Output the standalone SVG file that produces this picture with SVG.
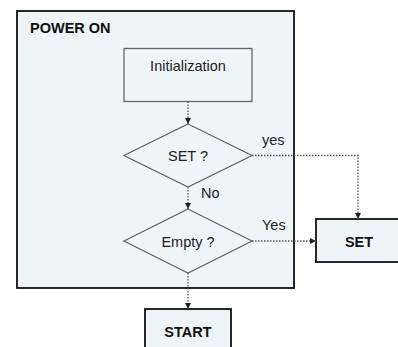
<svg xmlns="http://www.w3.org/2000/svg" width="398" height="347" viewBox="0 0 398 347">
  <style>
    text { font-family: "Liberation Sans", Arial, sans-serif; font-size: 14.5px; fill: #222; }
    .bold { font-weight: bold; fill: #111; }
    .frame { fill: #eef5f7; stroke: #111; stroke-width: 1.8; }
    .step { fill: #eef5f7; stroke: #666; stroke-width: 1.3; }
    .link { fill: none; stroke: #555; stroke-width: 1.3; stroke-dasharray: 1.5 1.5; }
  </style>
  <defs>
    <marker id="arrow" viewBox="0 0 10 10" refX="10" refY="5" markerWidth="6" markerHeight="6" orient="auto" markerUnits="userSpaceOnUse">
      <path d="M0,0 L10,5 L0,10 z" fill="#222"/>
    </marker>
  </defs>

  <rect width="398" height="347" fill="#ffffff"/>

  <g id="power-on">
    <rect class="frame" x="17" y="11" width="277" height="277"/>
    <text class="bold" x="30" y="33">POWER ON</text>
  </g>

  <g id="initialization">
    <rect class="step" x="124" y="48.5" width="128" height="53"/>
    <text x="188" y="71" text-anchor="middle">Initialization</text>
  </g>

  <g id="set-check">
    <polygon class="step" points="188,124 252,155.5 188,187 124,155.5"/>
    <text x="188" y="161" text-anchor="middle">SET ?</text>
  </g>

  <g id="empty-check">
    <polygon class="step" points="188,209 252,241 188,273 124,241"/>
    <text x="188" y="246.5" text-anchor="middle">Empty ?</text>
  </g>

  <g id="set">
    <rect class="frame" x="316" y="219" width="90" height="43"/>
    <text class="bold" x="359" y="246.5" text-anchor="middle">SET</text>
  </g>

  <g id="start">
    <rect class="frame" x="145" y="309" width="86" height="50"/>
    <text class="bold" x="188" y="336.5" text-anchor="middle">START</text>
  </g>

  <g id="connectors">
    <path class="link" d="M188,101.5 V124" marker-end="url(#arrow)"/>
    <path class="link" d="M188,187 V209" marker-end="url(#arrow)"/>
    <path class="link" d="M252,155.5 H358 V219" marker-end="url(#arrow)"/>
    <path class="link" d="M252,241 H316" marker-end="url(#arrow)"/>
    <path class="link" d="M188,273 V309" marker-end="url(#arrow)"/>
    <text x="262" y="145">yes</text>
    <text x="201" y="198">No</text>
    <text x="262" y="230">Yes</text>
  </g>
</svg>
